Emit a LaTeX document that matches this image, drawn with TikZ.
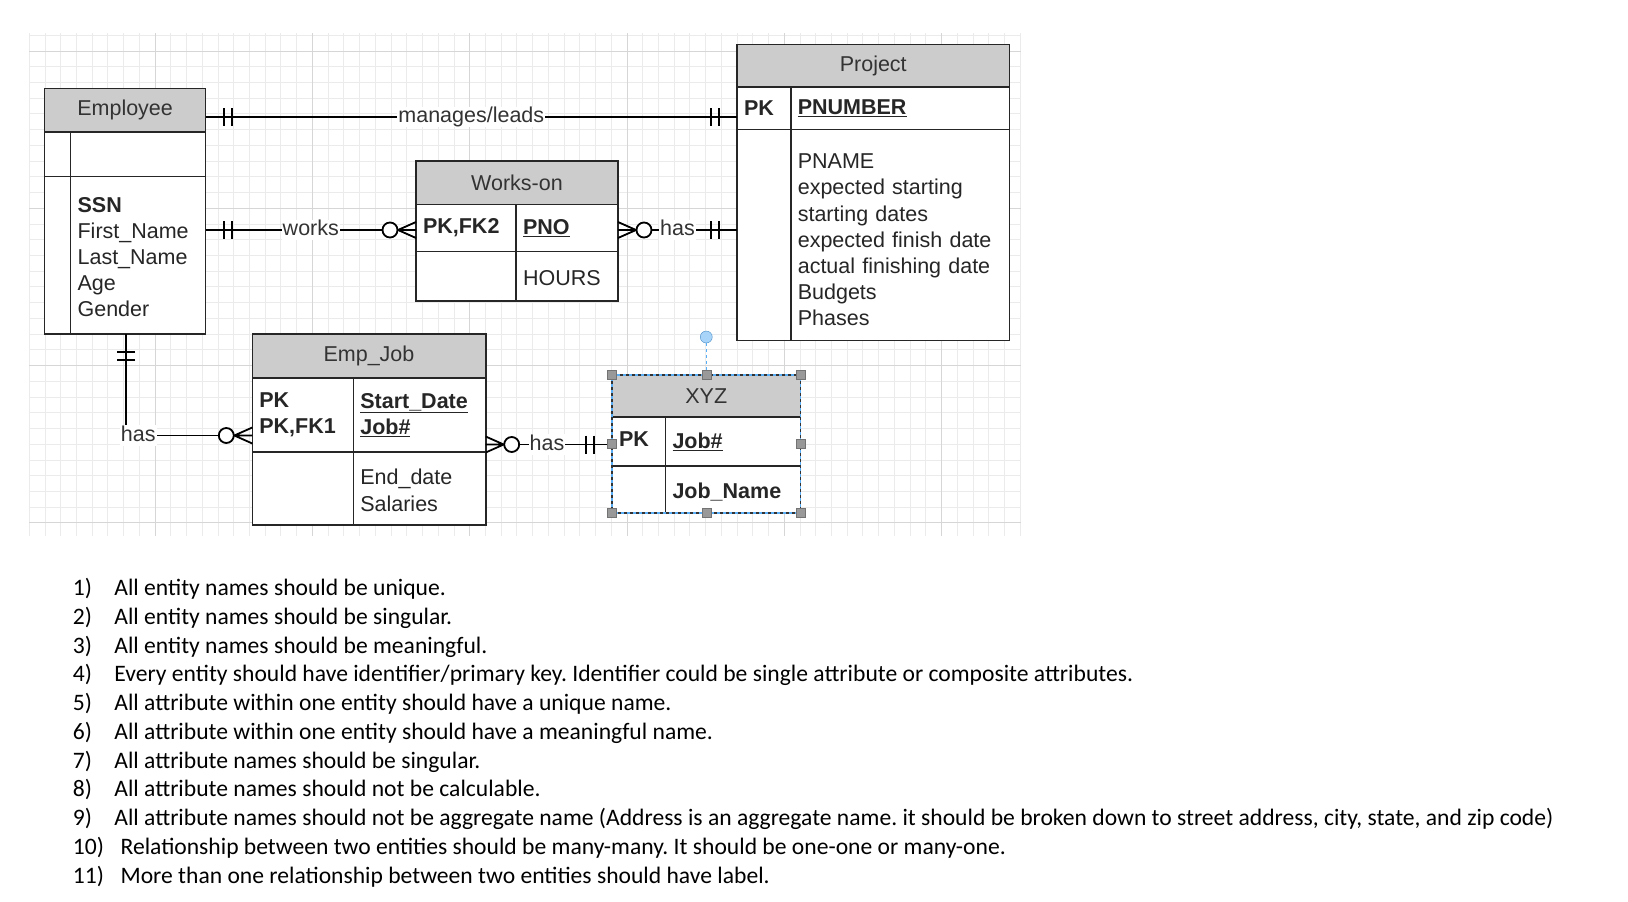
\documentclass[tikz,border=0pt]{standalone}
\usepackage{fontspec}
\setmainfont{Liberation Sans}
\newfontfamily\erfamily{Liberation Sans}
\newfontfamily\lstfamily{Carlito}
\newcommand\erf{\erfamily\fontsize{21.5}{26.2}\selectfont}
\newcommand\lstf{\lstfamily\fontsize{23.6}{28.75}\selectfont}
\definecolor{selblue}{HTML}{5AAEF5}
\definecolor{rotfill}{HTML}{A9D4FA}
\frenchspacing
\begin{document}
\begin{tikzpicture}[x=1pt, y=-1pt,
	ent/.style = {draw=black!85, line width=1.6pt, fill=white, inner xsep=7pt, inner ysep=0pt, outer sep=0pt, anchor=north west, font=\erf, text=black!85, align=left},
	hd/.style = {ent, fill=black!20, align=center, text=black!80},
	rel/.style = {draw=black, line width=1.8pt},
	lbl/.style = {fill=white, inner xsep=1pt, inner ysep=0pt, text height=15.7pt, text depth=4.5pt, font=\erf, text=black!80},
	hdl/.style = {rectangle, draw=black!55, fill=black!40, minimum size=9pt, inner sep=0pt},
	rot/.style = {circle, draw=selblue!80!black, fill=rotfill, minimum size=12pt, inner sep=0pt},
	num/.style = {anchor=base west, inner sep=0pt, font=\lstf},
	itm/.style = {anchor=base west, inner sep=0pt, font=\lstf},
	mone/.pic = {\draw[rel] (18,-9) -- (18,9) (26,-9) -- (26,9);},
	zmany/.pic = {\draw[rel] (0,-8) -- (18,0) -- (0,8) (0,0) -- (18,0); \draw[rel, fill=white] (26,0) circle[radius=7.5];}
	]
	
	\fill[white] (0,0) rectangle (1628,902);
	\useasboundingbox (0,0) rectangle (1628,902);
	
	% === === === Grid === === ===
	\draw[black!8, line width=1pt, step=15.73pt, shift={(29.3,35.3)}] (0,-2.3) grid (991.7,500.7);
	\draw[black!16, line width=1pt, step=157.3pt, shift={(155.2,51)}] (-125.9,-18) grid (865.8,485);
	
	% === === === Entities === === ===
	\node[hd, minimum width=161, minimum height=43.5] (emp) at (44.6,88.5) {Employee};
	\node[ent, minimum width=26, minimum height=44.5] (empk1) at (44.6,132) {};
	\node[ent, minimum width=135, minimum height=44.5] (empa1) at (70.6,132) {};
	\node[ent, minimum width=26, minimum height=157.5] (empk2) at (44.6,176.5) {};
	\node[ent, minimum width=135, minimum height=157.5, text width=121, text height=18.8pt] (empa2) at (70.6,176.5) {\textbf{SSN}\\First\_Name\\Last\_Name\\Age\\Gender};
	
	\node[hd, minimum width=272.5, minimum height=42.5] (prj) at (737,44.5) {Project};
	\node[ent, minimum width=53.8, minimum height=42.5, text width=39.8] (prjk1) at (737,87) {\textbf{PK}};
	\node[ent, minimum width=218.7, minimum height=42.5, text width=204.7] (prja1) at (790.8,87) {\textbf{\underline{PNUMBER}}};
	\node[ent, minimum width=53.8, minimum height=211] (prjk2) at (737,129.5) {};
	\node[ent, minimum width=218.7, minimum height=211, text width=204.7, text height=24.8pt] (prja2) at (790.8,129.5) {PNAME\\expected starting\\starting dates\\expected finish date\\actual finishing date\\Budgets\\Phases};
	
	\node[hd, minimum width=202, minimum height=43.5] (won) at (416,161) {Works-on};
	\node[ent, minimum width=100, minimum height=47, text width=86] (wonk1) at (416,204.5) {\textbf{PK,FK2}};
	\node[ent, minimum width=102, minimum height=47, text width=88] (wona1) at (516,204.5) {\textbf{\underline{PNO}}};
	\node[ent, minimum width=100, minimum height=49.5] (wonk2) at (416,251.5) {};
	\node[ent, minimum width=102, minimum height=49.5, text width=88, text height=18.8pt] (wona2) at (516,251.5) {HOURS};
	
	\node[hd, minimum width=233.4, minimum height=43.7] (ejb) at (252.3,334) {Emp\_Job};
	\node[ent, minimum width=101, minimum height=74, text width=87] (ejbk1) at (252.3,377.7) {\textbf{PK}\\\textbf{PK,FK1}};
	\node[ent, minimum width=132.4, minimum height=74, text width=118.4] (ejba1) at (353.3,377.7) {\textbf{\underline{Start\_Date}}\\\textbf{\underline{Job\#}}};
	\node[ent, minimum width=101, minimum height=73.3] (ejbk2) at (252.3,451.7) {};
	\node[ent, minimum width=132.4, minimum height=73.3, text width=118.4, text height=19.4pt] (ejba2) at (353.3,451.7) {End\_date\\Salaries};
	
	\node[hd, minimum width=188.5, minimum height=42] (xyz) at (612,375) {XYZ};
	\node[ent, minimum width=53.5, minimum height=49, text width=39.5, text depth=4pt] (xyzk1) at (612,417) {\textbf{PK}};
	\node[ent, minimum width=135, minimum height=49, text width=121] (xyza1) at (665.5,417) {\textbf{\underline{Job\#}}};
	\node[ent, minimum width=53.5, minimum height=47] (xyzk2) at (612,466) {};
	\node[ent, minimum width=135, minimum height=47, text width=121, text height=21.4pt] (xyza2) at (665.5,466) {\textbf{Job\_Name}};
	
	% === === === Relationships === === ===
	\draw[rel] (emp.east |- 0,117) -- node[lbl] (lmng) {manages/leads} (prjk1.west |- 0,117);
	\draw[rel] (empa2.east |- 0,230) -- node[lbl] (lwrk) {works} (wonk1.west |- 0,230);
	\draw[rel] (wona1.east |- 0,230) -- node[lbl] (lhs1) {has} (prjk2.west |- 0,230);
	\draw[rel] (empa2.south -| 126,0) |- node[lbl, anchor=west, xshift=-7pt] (lhs2) {has} (ejbk1.west |- 0,435.5);
	\draw[rel] (ejba1.east |- 0,444.5) -- node[lbl, pos=0.485] (lhs3) {has} (xyzk1.west |- 0,444.5);
	
	% === === === Ends === === ===
	\pic at (emp.east |- 0,117) {mone};
	\pic[xscale=-1] at (prjk1.west |- 0,117) {mone};
	\pic at (empa2.east |- 0,230) {mone};
	\pic[xscale=-1] at (wonk1.west |- 0,230) {zmany};
	\pic at (wona1.east |- 0,230) {zmany};
	\pic[xscale=-1] at (prjk2.west |- 0,230) {mone};
	\pic[rotate=-90] at (empa2.south -| 126,0) {mone};
	\pic[xscale=-1] at (ejbk1.west |- 0,435.5) {zmany};
	\pic at (ejba1.east |- 0,444.5) {zmany};
	\pic[xscale=-1] at (xyzk1.west |- 0,444.5) {mone};
	
	% === === === Selection === === ===
	\draw[line width=1.6pt, selblue] (xyz.north west) rectangle (xyza2.south east);
	\draw[line width=1.6pt, black!80, dash pattern=on 3pt off 3pt] (xyz.north west) rectangle (xyza2.south east);
	\node[rot] (hrot) at (706.25,337) {};
	\node[hdl] (hnw) at (xyz.north west) {};
	\node[hdl] (hn) at (xyz.north) {};
	\node[hdl] (hne) at (xyz.north east) {};
	\node[hdl] (hw) at (612,444) {};
	\node[hdl] (he) at (800.5,444) {};
	\node[hdl] (hsw) at (xyzk2.south west) {};
	\node[hdl] (hs) at (706.25,513) {};
	\node[hdl] (hse) at (xyza2.south east) {};
	\draw[selblue, line width=1pt, dashed] (hrot.south) -- (hn.north);
	
	% === === === Rules === === ===
	\node[num] (n1) at (72.7,595.5) {1)};
	\node[itm] (t1) at (114.2,595.5) {All entity names should be unique.};
	\node[num] (n2) at (72.7,624.25) {2)};
	\node[itm] (t2) at (114.2,624.25) {All entity names should be singular.};
	\node[num] (n3) at (72.7,653) {3)};
	\node[itm] (t3) at (114.2,653) {All entity names should be meaningful.};
	\node[num] (n4) at (72.7,681.75) {4)};
	\node[itm] (t4) at (114.2,681.75) {Every entity should have identifier/primary key. Identifier could be single attribute or composite attributes.};
	\node[num] (n5) at (72.7,710.5) {5)};
	\node[itm] (t5) at (114.2,710.5) {All attribute within one entity should have a unique name.};
	\node[num] (n6) at (72.7,739.25) {6)};
	\node[itm] (t6) at (114.2,739.25) {All attribute within one entity should have a meaningful name.};
	\node[num] (n7) at (72.7,768) {7)};
	\node[itm] (t7) at (114.2,768) {All attribute names should be singular.};
	\node[num] (n8) at (72.7,796.75) {8)};
	\node[itm] (t8) at (114.2,796.75) {All attribute names should not be calculable.};
	\node[num] (n9) at (72.7,825.5) {9)};
	\node[itm] (t9) at (114.2,825.5) {All attribute names should not be aggregate name (Address is an aggregate name. it should be broken down to street address, city, state, and zip code)};
	\node[num] (n10) at (72.7,854.25) {10)};
	\node[itm] (t10) at (120.4,854.25) {Relationship between two entities should be many-many. It should be one-one or many-one.};
	\node[num] (n11) at (72.7,883) {11)};
	\node[itm] (t11) at (120.4,883) {More than one relationship between two entities should have label.};
	
\end{tikzpicture}
\end{document}
